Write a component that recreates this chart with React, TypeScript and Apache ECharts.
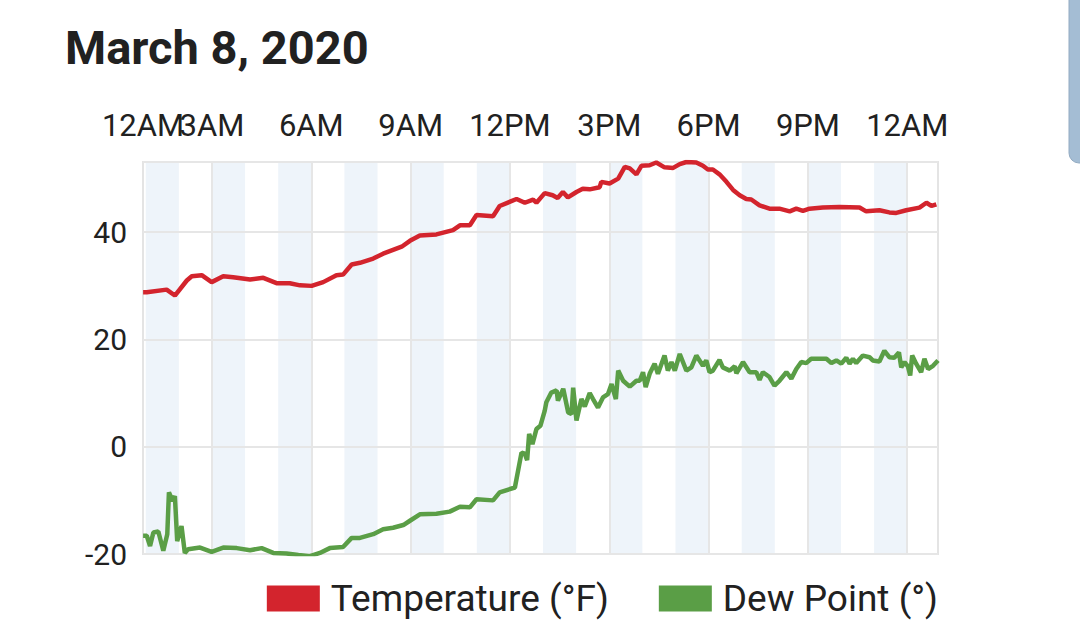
import React, { useEffect, useRef } from "react";
import * as echarts from "echarts";

// Time of day in hours (0 = midnight, 24 = next midnight)
const tempHours = [
  0.92, 1.03, 1.63, 1.88, 2.24, 2.39, 2.69, 2.99, 3.34, 3.64, 4.15, 4.55, 4.95, 5.35, 5.66, 6.01,
  6.36, 6.76, 6.96, 7.22, 7.47, 7.87, 8.17, 8.73, 8.98, 9.28, 9.78, 10.28, 10.49, 10.79, 10.99,
  11.49, 11.69, 12.2, 12.45, 12.7, 12.8, 13.05, 13.29, 13.44, 13.6, 13.75, 14.01, 14.2, 14.41,
  14.71, 14.76, 15.01, 15.27, 15.47, 15.62, 15.82, 15.97, 16.22, 16.42, 16.67, 16.93, 17.13,
  17.33, 17.63, 17.83, 17.98, 18.13, 18.33, 18.54, 18.74, 18.94, 19.14, 19.29, 19.54, 19.84,
  20.14, 20.45, 20.65, 20.85, 21.05, 21.45, 21.95, 22.56, 22.76, 23.16, 23.46, 23.67, 23.97,
  24.37, 24.58, 24.73, 24.88,
];
const tempValues = [
  28.8, 28.8, 29.3, 28.2, 31.0, 31.8, 32.0, 30.7, 31.8, 31.6, 31.2, 31.5, 30.5, 30.5, 30.1, 30.0,
  30.7, 32.0, 32.1, 34.0, 34.3, 35.1, 36.0, 37.3, 38.4, 39.4, 39.6, 40.4, 41.3, 41.3, 43.2,
  43.0, 44.9, 46.2, 45.5, 46.1, 45.5, 47.3, 46.9, 46.4, 47.5, 46.5, 47.5, 48.1, 48.0,
  48.4, 49.4, 49.1, 50.0, 52.2, 51.9, 50.8, 52.4, 52.5, 53.0, 52.1, 52.0, 52.7,
  53.1, 53.0, 52.4, 51.7, 51.7, 50.8, 49.4, 47.9, 46.9, 46.2, 46.1, 45.0, 44.4,
  44.4, 43.9, 44.4, 44.0, 44.4, 44.6, 44.7, 44.6, 43.9, 44.1, 43.7, 43.6, 44.1,
  44.6, 45.5, 44.9, 45.2,
];

const dewHours = [
  0.92, 1.03, 1.13, 1.23, 1.38, 1.53, 1.65, 1.7, 1.81, 1.88, 1.95, 2.08, 2.18, 2.28, 2.64, 2.99,
  3.34, 3.75, 4.15, 4.5, 4.85, 5.25, 5.61, 5.96, 6.26, 6.56, 6.96, 7.22, 7.47, 7.87, 8.17, 8.47,
  8.78, 8.98, 9.28, 9.78, 10.18, 10.49, 10.79, 10.99, 11.49, 11.69, 12.15, 12.35, 12.45, 12.52,
  12.58, 12.68, 12.8, 12.92, 13.05, 13.1, 13.25, 13.41, 13.45, 13.61, 13.76, 13.86, 13.91, 14.01,
  14.16, 14.26, 14.41, 14.51, 14.66, 14.81, 14.96, 15.07, 15.2, 15.27, 15.42, 15.62, 15.82, 15.92,
  16.02, 16.1, 16.22, 16.37, 16.47, 16.67, 16.77, 16.88, 16.98, 17.13, 17.33, 17.48, 17.63, 17.83,
  17.93, 18.03, 18.13, 18.33, 18.43, 18.64, 18.79, 18.84, 19.04, 19.24, 19.44, 19.54, 19.64,
  19.84, 19.99, 20.14, 20.35, 20.5, 20.65, 20.8, 20.95, 21.1, 21.56, 21.71, 21.86, 22.01, 22.16,
  22.26, 22.36, 22.46, 22.66, 22.86, 22.96, 23.16, 23.31, 23.46, 23.61, 23.75, 23.82, 23.92,
  24.02, 24.09, 24.15, 24.27, 24.42, 24.52, 24.63, 24.78, 24.93,
];
const dewValues = [
  -16.6, -16.6, -18.5, -16.0, -15.8, -19.4, -16.3, -8.5, -10.1, -9.2, -17.6, -14.8, -19.8, -19.1, -18.8, -19.6,
  -18.8, -18.9, -19.3, -18.9, -19.8, -19.9, -20.2, -20.4, -19.8, -18.9, -18.7, -17.0, -17.0, -16.3, -15.4, -15.1,
  -14.6, -13.8, -12.6, -12.5, -12.1, -11.2, -11.3, -9.8, -10.0, -8.5, -7.6, -1.1, -1.3, -2.5,
  2.4, 0.5, 3.3, 3.9, 6.7, 8.3, 10.1, 10.5, 8.6, 10.8, 6.4, 6.1, 11.0, 4.9,
  8.9, 7.5, 10.0, 8.9, 7.3, 9.2, 9.8, 11.7, 8.9, 14.2, 12.3, 11.2, 12.3, 12.3,
  13.9, 11.1, 13.6, 15.5, 13.6, 17.0, 14.2, 15.8, 14.2, 17.3, 14.2, 14.8, 17.0, 15.1,
  16.1, 13.9, 14.2, 16.2, 14.8, 14.2, 15.0, 13.7, 15.8, 13.9, 13.9, 12.5, 13.9,
  13.0, 11.4, 12.3, 13.9, 12.7, 14.5, 15.8, 15.6, 16.4, 16.4, 15.6, 16.1, 15.5, 16.6,
  15.5, 16.4, 15.6, 17.0, 16.7, 16.1, 15.9, 17.9, 16.7, 16.6, 17.6, 14.8, 15.8,
  15.0, 13.3, 17.0, 15.5, 13.9, 16.4, 14.5, 15.1, 16.1,
];

const xMin = 0.9167;
const xMax = 24.93;
const xStartLabelHours = [0.9167];
const xLabelHours = [3, 6, 9, 12, 15, 18, 21, 24];
const gridHours = [3, 6, 9, 12, 15, 18, 21, 24];
const shadedHours = [1, 3, 5, 7, 9, 11, 13, 15, 17, 19, 21, 23];
const yMin = -20;
const yMax = 53.1;
const yInterval = 20;

const seriesNames = ["Temperature (°F)", "Dew Point (°)"];
const RED = "#d3242d";
const GREEN = "#5a9e46";
const FONT = "Roboto";
const TEXT = "#212121";

function hourLabel(v: number): string {
  const hr = Math.floor(v + 1e-6) % 24;
  const h12 = hr % 12 === 0 ? 12 : hr % 12;
  return h12 + (hr < 12 ? "AM" : "PM");
}

export default function App() {
  const ref = useRef<HTMLDivElement>(null);
  useEffect(() => {
    document.body.style.margin = "0";
    if (!ref.current) return;
    const chart = echarts.init(ref.current, undefined, { renderer: "svg" });
    const tempData = tempHours.map((h, i) => [h, tempValues[i]]);
    const dewData = dewHours.map((h, i) => [h, dewValues[i]]);
    const xLabelStyle = {
      formatter: (v: number) => hourLabel(v),
      showMinLabel: true,
      showMaxLabel: true,
      fontFamily: FONT,
      fontSize: 31,
      color: TEXT,
      margin: 21,
      hideOverlap: false,
    };
    chart.setOption({
      animation: false,
      backgroundColor: "#ffffff",
      title: {
        text: "March 8, 2020",
        left: 65,
        top: 24,
        padding: 0,
        textStyle: { fontFamily: FONT, fontSize: 47, fontWeight: "bold", color: TEXT },
      },
      legend: {
        data: seriesNames,
        right: 142,
        top: 580,
        padding: 0,
        itemWidth: 53,
        itemHeight: 26,
        itemGap: 50,
        icon: "rect",
        textStyle: { fontFamily: FONT, fontSize: 37, color: TEXT, padding: [0, 0, 0, 6] },
      },
      grid: {
        left: 143,
        right: 142,
        top: 162,
        bottom: 69,
        show: true,
        borderColor: "#e4e4e4",
        borderWidth: 2,
        backgroundColor: "transparent",
      },
      xAxis: [
        {
          type: "value",
          position: "top",
          min: xMin,
          max: xMax,
          axisLine: { show: false },
          axisTick: { show: false },
          splitLine: { show: false },
          axisLabel: { ...xLabelStyle, customValues: xLabelHours },
        },
        {
          type: "value",
          position: "top",
          offset: 0,
          min: xMin,
          max: xMax,
          axisLine: { show: false },
          axisTick: { show: false },
          splitLine: { show: false },
          axisLabel: { ...xLabelStyle, customValues: xStartLabelHours },
        },
      ],
      yAxis: {
        type: "value",
        min: yMin,
        max: yMax,
        interval: yInterval,
        axisLine: { show: false },
        axisTick: { show: false },
        splitLine: { show: true, lineStyle: { color: "#e6e6e6", width: 2 } },
        axisLabel: {
          showMaxLabel: false,
          fontFamily: FONT,
          fontSize: 30,
          color: TEXT,
          margin: 16,
        },
      },
      graphic: [
        {
          type: "rect",
          shape: { x: 1069, y: -20, width: 40, height: 183, r: 10 },
          style: { fill: "#a4bdd4", stroke: "#93abc2", lineWidth: 1 },
          silent: true,
        },
      ],
      series: [
        {
          name: "bands",
          type: "line",
          data: [],
          silent: true,
          xAxisIndex: 0,
          markArea: {
            silent: true,
            z: -1,
            itemStyle: { color: "#eef4fa" },
            data: shadedHours.map((h) => [{ xAxis: h }, { xAxis: h + 1 }]),
          },
          markLine: {
            silent: true,
            z: 0,
            symbol: ["none", "none"],
            label: { show: false },
            lineStyle: { color: "#e6e6e6", width: 2, type: "solid" },
            data: gridHours.map((h) => ({ xAxis: h })),
          },
        },
        {
          name: seriesNames[0],
          type: "line",
          xAxisIndex: 0,
          data: tempData,
          showSymbol: false,
          color: RED,
          lineStyle: { color: RED, width: 4.5 },
          z: 3,
        },
        {
          name: seriesNames[1],
          type: "line",
          xAxisIndex: 0,
          data: dewData,
          showSymbol: false,
          color: GREEN,
          lineStyle: { color: GREEN, width: 4.5 },
          z: 3,
        },
      ],
    });
    return () => chart.dispose();
  }, []);
  return <div ref={ref} style={{ width: 1080, height: 623 }} />;
}
